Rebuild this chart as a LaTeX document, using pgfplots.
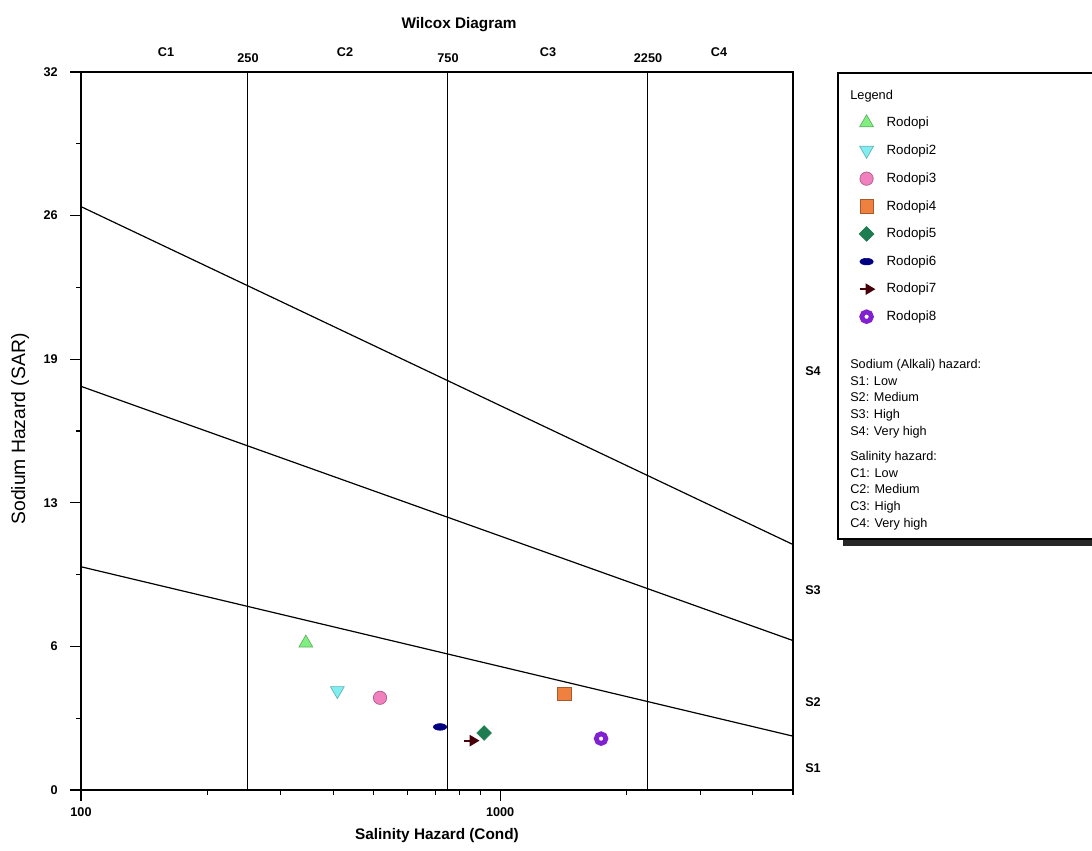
\documentclass[border=0pt]{standalone}
\usepackage{pgfplots}
\pgfplotsset{compat=1.18}
\usepackage{fontspec}
\setmainfont{Liberation Sans}
\definecolor{cA}{RGB}{128,238,128}
\definecolor{cB}{RGB}{128,238,240}
\definecolor{cC}{RGB}{240,128,190}
\definecolor{cD}{RGB}{240,128,64}
\definecolor{cE}{RGB}{30,125,80}
\definecolor{cF}{RGB}{0,0,128}
\definecolor{cG}{RGB}{70,0,10}
\definecolor{cH}{RGB}{128,32,208}
\pgfdeclareplotmark{rarrow}{%
  \pgfsetlinewidth{1.6pt}%
  \pgfpathmoveto{\pgfqpoint{-\pgfplotmarksize}{0pt}}%
  \pgfpathlineto{\pgfqpoint{0.2\pgfplotmarksize}{0pt}}%
  \pgfusepathqstroke
  \pgfpathmoveto{\pgfqpoint{\pgfplotmarksize}{0pt}}%
  \pgfpathlineto{\pgfqpoint{0pt}{0.6\pgfplotmarksize}}%
  \pgfpathlineto{\pgfqpoint{0pt}{-0.6\pgfplotmarksize}}%
  \pgfpathclose
  \pgfusepathqfillstroke
}
\begin{document}
\begin{tikzpicture}
\path[use as bounding box] (0,0) rectangle (819pt,637.5pt);
\begin{scope}[x=0.75pt,y=0.75pt]
\fill[black!85] (843,850-546) rectangle (1100,850-80);
\draw[line width=1.1pt, fill=white] (838,850-73) rectangle (1097,850-539);
\end{scope}
\begin{axis}[
  at={(60.75pt,45pt)}, anchor=south west, scale only axis,
  width=534pt, height=538.5pt,
  xmode=log, xmin=100, xmax=5000, ymin=0, ymax=32,
  xtick={100,1000}, xticklabels={100,1000},
  minor xtick={200,300,400,500,600,700,800,900,2000,3000,4000,5000},
  ytick={0,6.4,12.8,19.2,25.6,32}, yticklabels={0,6,13,19,26,32},
  minor ytick={3.2,9.6,16,22.4,28.8},
  tick align=outside, xtick pos=left, ytick pos=left,
  major tick length=8pt, minor tick length=3.5pt,
  tick style={black, line width=0.8pt},
  axis line style={line width=1pt},
  /pgf/number format/assume math mode=true,
  ticklabel style={font=\bfseries\fontsize{9.5}{11}\selectfont},
  yticklabel style={xshift=-6pt},
  xticklabel style={yshift=-2pt},
  clip=false,
  legend style={at={(1.087,0.9445)}, anchor=north west, draw=none, fill=none,
    font=\fontsize{10}{12}\selectfont, row sep=9.9pt, column sep=8.5pt,
    nodes={inner sep=1pt}},
  legend cell align=left,
]
\addplot[forget plot, black, line width=0.9pt] coordinates {(100,26.0) (5000,10.94)};
\addplot[forget plot, black, line width=0.9pt] coordinates {(100,17.99) (5000,6.66)};
\addplot[forget plot, black, line width=0.9pt] coordinates {(100,9.95) (5000,2.40)};
\addplot[forget plot, black, line width=0.9pt] coordinates {(250,0) (250,32)};
\addplot[forget plot, black, line width=0.9pt] coordinates {(750,0) (750,32)};
\addplot[forget plot, black, line width=0.9pt] coordinates {(2250,0) (2250,32)};

\addplot[only marks, mark=triangle*, mark size=6pt, mark options={fill=cA, draw=cA!75!black, line width=0.5pt}] coordinates {(344,6.55)};
\addlegendentry{Rodopi}
\addplot[only marks, mark=triangle*, mark size=6pt, mark options={rotate=180, fill=cB, draw=cB!75!black, line width=0.5pt}] coordinates {(409,4.43)};
\addlegendentry{Rodopi2}
\addplot[only marks, mark=*, mark size=5pt, mark options={fill=cC, draw=cC!70!black, line width=0.5pt}] coordinates {(517,4.11)};
\addlegendentry{Rodopi3}
\addplot[only marks, mark=square*, mark size=5pt, mark options={fill=cD, draw=cD!70!black, line width=0.5pt}] coordinates {(1422,4.28)};
\addlegendentry{Rodopi4}
\addplot[only marks, mark=square*, mark size=3.9pt, mark options={rotate=45, fill=cE, draw=cE, line width=0.5pt}] coordinates {(916,2.54)};
\addlegendentry{Rodopi5}
\addplot[only marks, mark=*, mark size=5pt, mark options={yscale=0.5, fill=cF, draw=cF}] coordinates {(719,2.81)};
\addlegendentry{Rodopi6}
\addplot[only marks, mark=rarrow, mark size=5pt, mark options={fill=cG, draw=cG}] coordinates {(851,2.20)};
\addlegendentry{Rodopi7}
\addplot[only marks, mark=o, mark size=3.6pt, mark options={draw=cH, line width=3.6pt}] coordinates {(1742,2.29)};
\addlegendentry{Rodopi8}
\end{axis}
\begin{scope}[x=0.75pt,y=0.75pt]
\node[font=\bfseries\fontsize{11.5}{13}\selectfont] at (459,850-25) {Wilcox Diagram};
\node[font=\bfseries\fontsize{11.5}{13}\selectfont] at (437,850-836) {Salinity Hazard (Cond)};
\node[rotate=90, font=\fontsize{14.5}{16}\selectfont] at (20,850-429) {Sodium Hazard (SAR)};
\begin{scope}[every node/.style={font=\bfseries\fontsize{9.5}{11}\selectfont}]
\node at (166,850-52) {C1};
\node at (248,850-58) {250};
\node at (345,850-52) {C2};
\node at (448,850-58) {750};
\node at (548,850-52) {C3};
\node at (648,850-58) {2250};
\node at (719,850-52) {C4};
\node at (813,850-371) {S4};
\node at (813,850-590) {S3};
\node at (813,850-702) {S2};
\node at (813,850-768) {S1};
\end{scope}
\node[anchor=west, font=\fontsize{9.6}{11}\selectfont, inner sep=0pt] at (850,850-96) {Legend};
\node[anchor=north west, align=left, inner sep=0pt, font=\fontsize{9.5}{12.5}\selectfont] at (850,850-359) {Sodium (Alkali) hazard:\\S1: Low\\S2: Medium\\S3: High\\S4: Very high};
\node[anchor=north west, align=left, inner sep=0pt, font=\fontsize{9.5}{12.5}\selectfont] at (850,850-451) {Salinity hazard:\\C1: Low\\C2: Medium\\C3: High\\C4: Very high};
\end{scope}
\end{tikzpicture}
\end{document}
